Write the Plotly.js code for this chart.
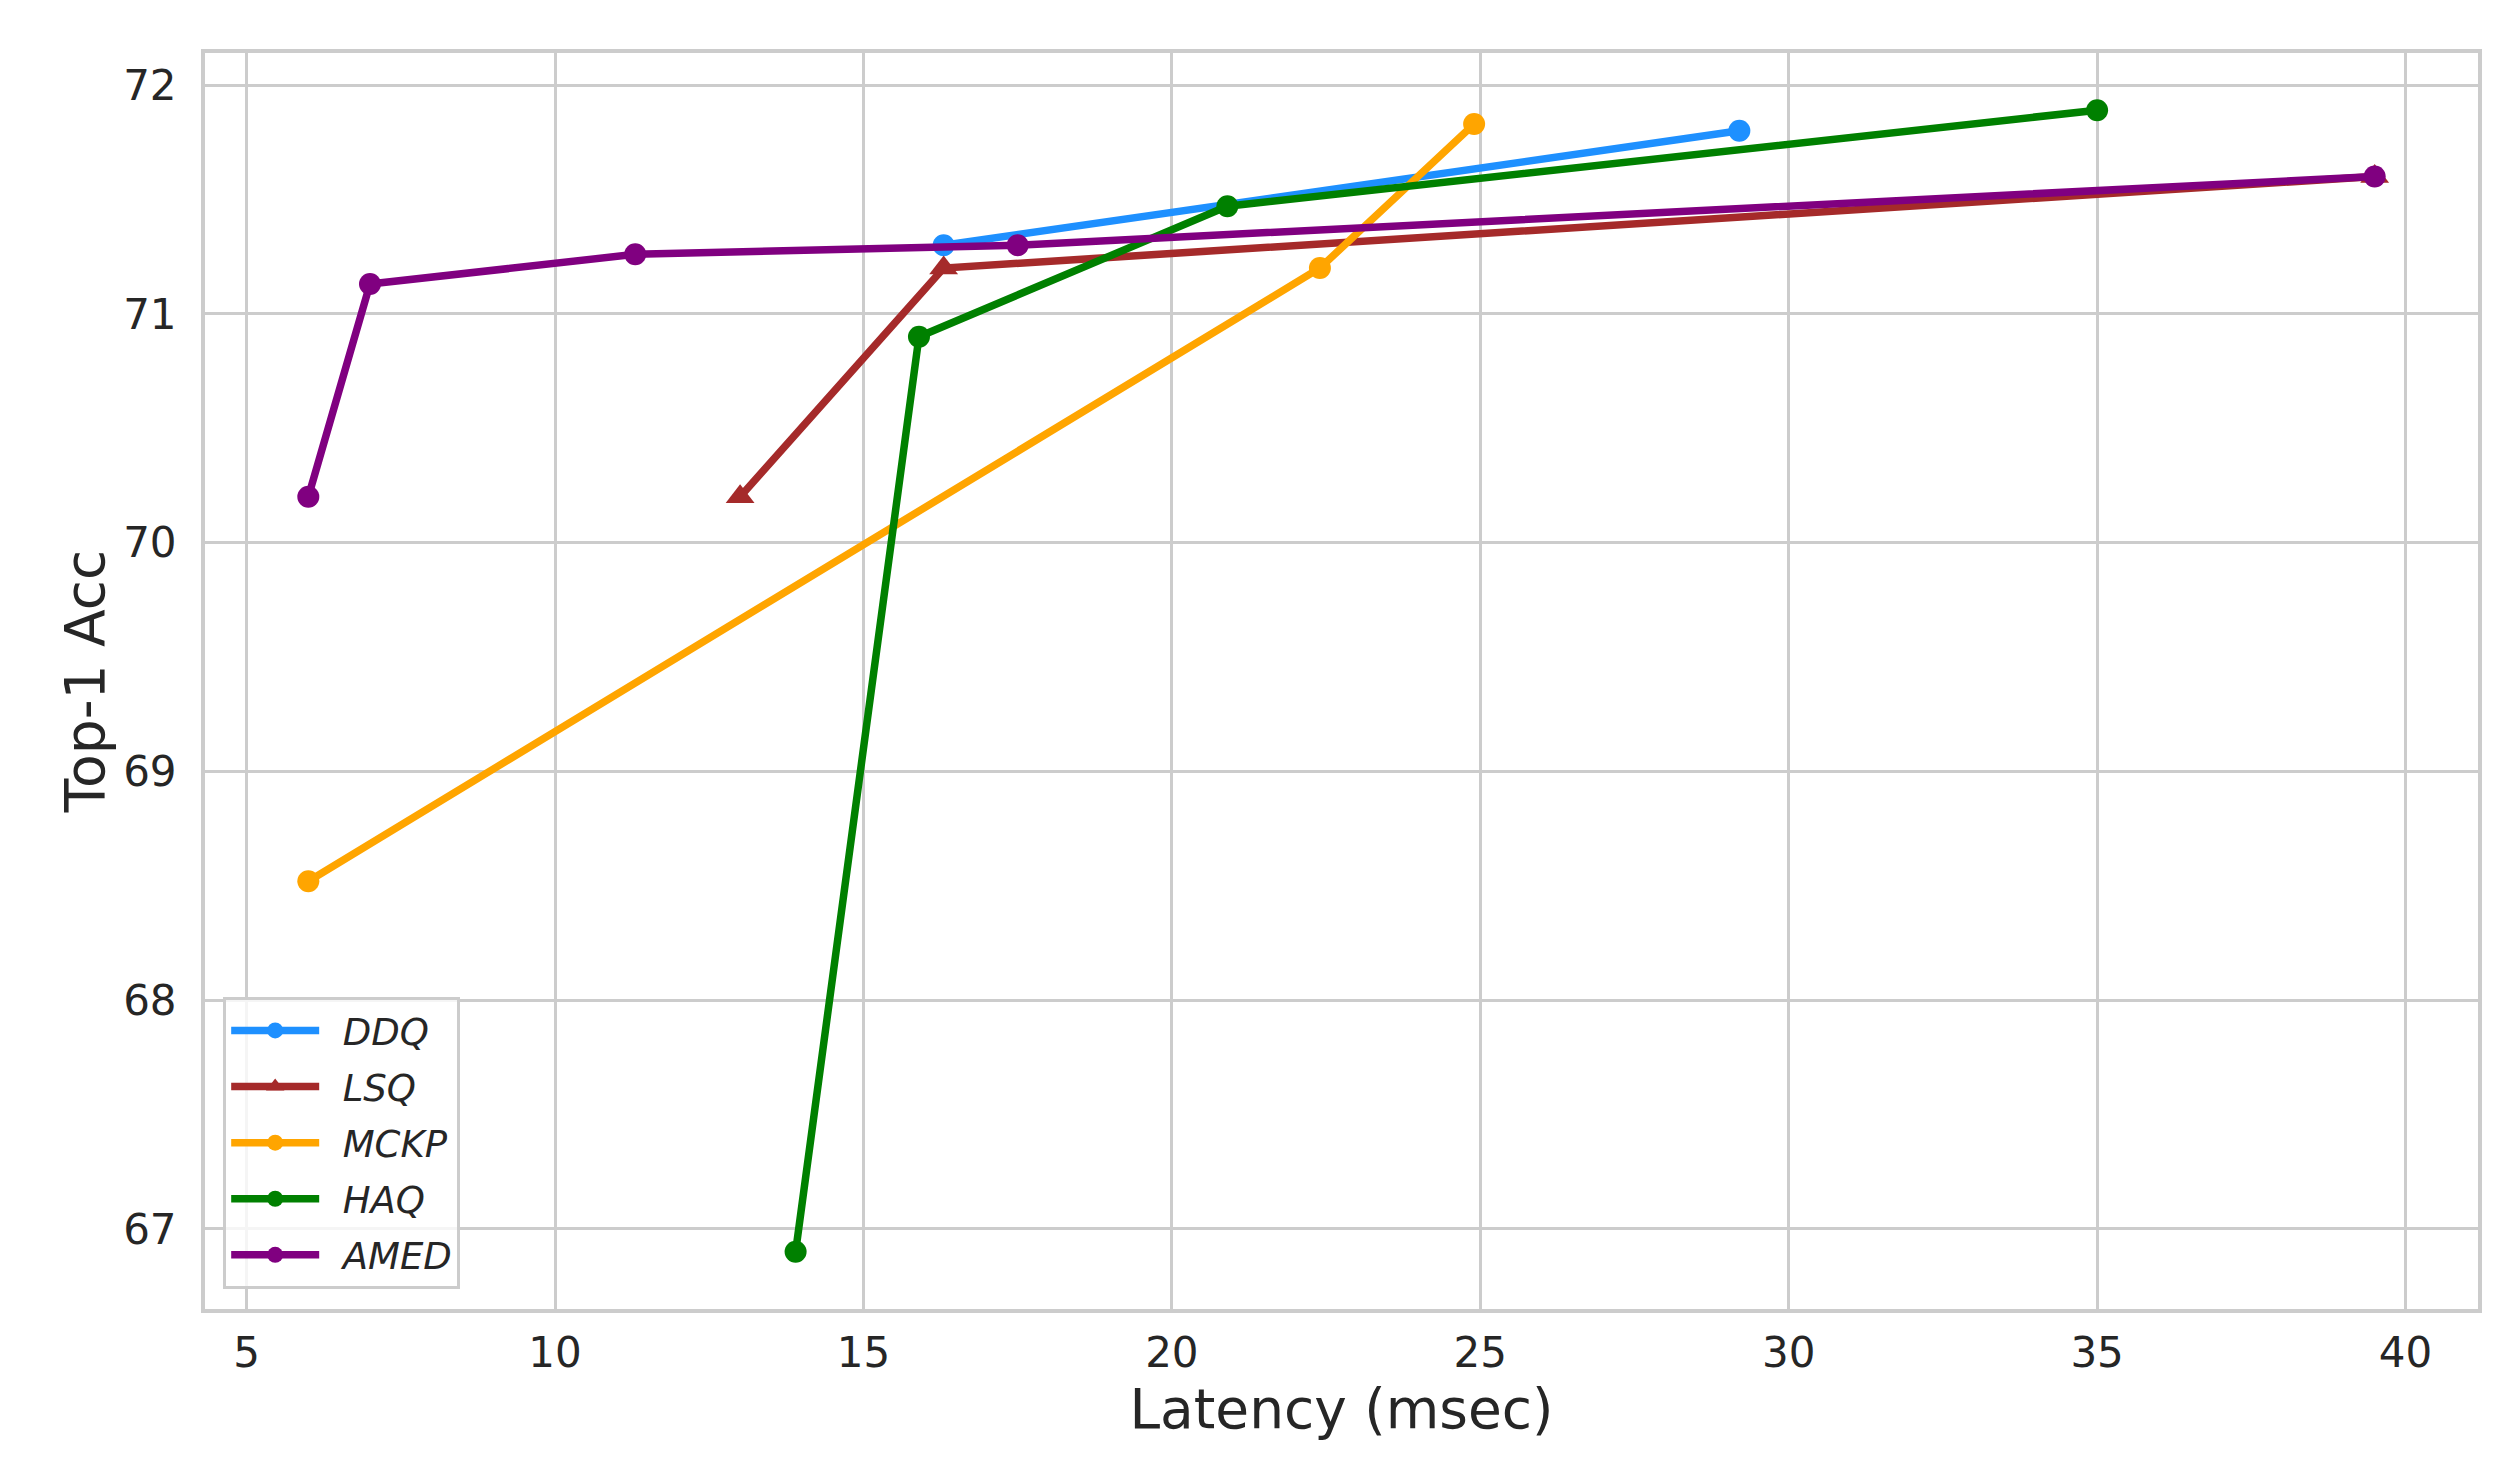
<!DOCTYPE html>
<html>
<head>
<meta charset="utf-8">
<script src="https://cdn.plot.ly/plotly-3.0.1.min.js"></script>
<style>
  html, body { margin: 0; padding: 0; background: #fff; }
  #chart { width: 2517px; height: 1465px; }
</style>
</head>
<body>
<div id="chart"></div>
<script>
// values
const ddqLatency = [16.3, 29.2]
const ddqAcc = [71.3, 71.8]

const lsqLatency = [13.0, 16.3, 39.5]
const lsqAcc = [70.2, 71.2, 71.6]

const mckpLatency = [6.0, 22.4, 24.9]
const mckpAcc = [68.52, 71.2, 71.83]

const haqLatency = [13.9, 15.9, 20.9, 35.0]
const haqAcc = [66.9, 70.9, 71.47, 71.89]

const amedLatency = [6.0, 7.0, 11.3, 17.5, 39.5]
const amedAcc = [70.2, 71.13, 71.26, 71.3, 71.6]

const xTicks = [5, 10, 15, 20, 25, 30, 35, 40]
const yTicks = [67, 68, 69, 70, 71, 72]

const TEXT_COLOR = '#262626'
const GRID_COLOR = '#cccccc'
const FONT = 'DejaVu Sans, sans-serif'

// the en space keeps a gap between legend line and label, like the original
function makeTrace(name, x, y, color, symbol, size) {
  return {
    x: x,
    y: y,
    name: '\u2002' + name,
    legendgroup: name,
    type: 'scatter',
    mode: 'lines+markers',
    line: { color: color, width: 7.5 },
    marker: { color: color, symbol: symbol, size: size },
  }
}

const data = [
  makeTrace('DDQ', ddqLatency, ddqAcc, '#1E90FF', 'circle', 22),
  makeTrace('LSQ', lsqLatency, lsqAcc, '#A52A2A', 'triangle-up', 25),
  makeTrace('MCKP', mckpLatency, mckpAcc, '#FFA500', 'circle', 22),
  makeTrace('HAQ', haqLatency, haqAcc, '#008000', 'circle', 22),
  makeTrace('AMED', amedLatency, amedAcc, '#800080', 'circle', 22),
]

const axisBase = {
  showgrid: true,
  gridcolor: GRID_COLOR,
  gridwidth: 3,
  zeroline: false,
  showline: true,
  linecolor: GRID_COLOR,
  linewidth: 4,
  mirror: true,
  ticks: 'outside',
  tickcolor: 'rgba(0,0,0,0)',
  tickfont: { family: FONT, size: 42, color: TEXT_COLOR },
}

const layout = {
  width: 2517,
  height: 1465,
  margin: { l: 205, r: 39, t: 53, b: 156 },
  paper_bgcolor: '#ffffff',
  plot_bgcolor: '#ffffff',
  font: { family: FONT, color: TEXT_COLOR },
  showlegend: true,
  xaxis: Object.assign({}, axisBase, {
    range: [4.325, 41.175],
    tickvals: xTicks,
    ticklen: 4,
    title: { text: 'Latency (msec)', font: { family: FONT, size: 55, color: TEXT_COLOR }, standoff: 2 },
  }),
  yaxis: Object.assign({}, axisBase, {
    range: [66.65, 72.14],
    tickvals: yTicks,
    ticklen: 16,
    title: { text: 'Top-1 Acc', font: { family: FONT, size: 55, color: TEXT_COLOR }, standoff: 2 },
  }),
  legend: {
    x: 0.008,
    y: 0.016,
    xanchor: 'left',
    yanchor: 'bottom',
    bgcolor: 'rgba(255,255,255,0.8)',
    bordercolor: GRID_COLOR,
    borderwidth: 3,
    itemwidth: 88,
    traceorder: 'grouped',
    tracegroupgap: 5,
    font: { family: FONT, size: 37, color: TEXT_COLOR, style: 'italic' },
  },
}

Plotly.newPlot('chart', data, layout, { displayModeBar: false, responsive: false })
</script>
</body>
</html>
